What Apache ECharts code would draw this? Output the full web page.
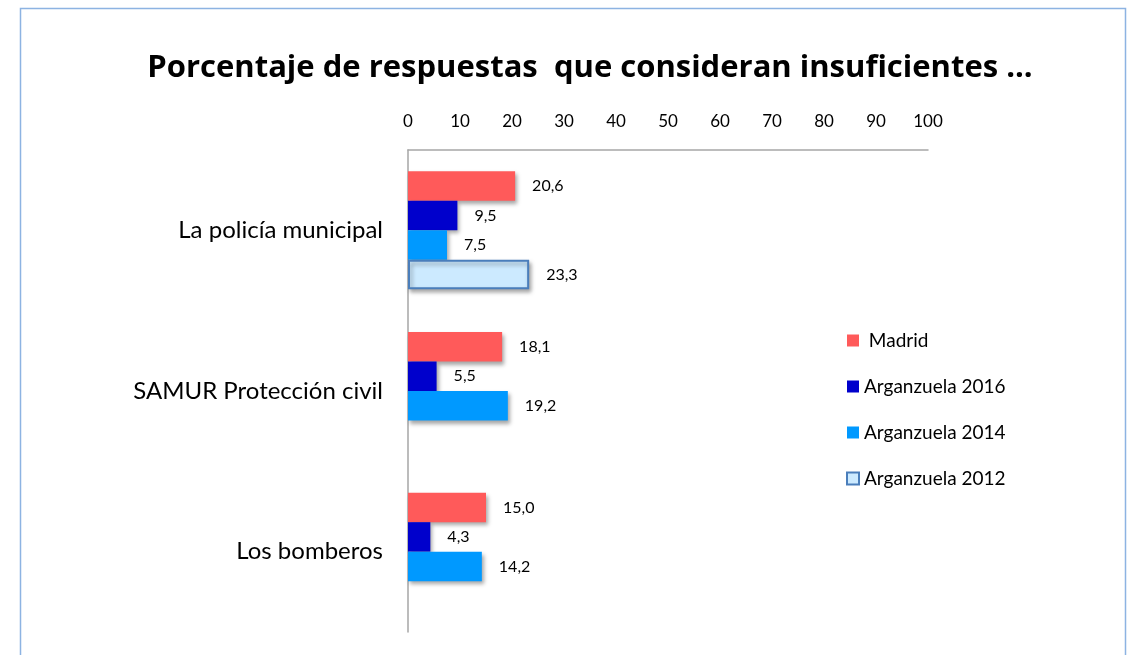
<!DOCTYPE html>
<html><head><meta charset="utf-8">
<script src="https://cdn.jsdelivr.net/npm/echarts@6/dist/echarts.min.js"></script>
<style>html,body{margin:0;padding:0;background:#fff}#c{width:1134px;height:655px}</style>
</head><body><div id="c"></div>
<script>
const categories = ['La policía municipal', 'SAMUR Protección civil', 'Los bomberos'];
const seriesNames = [' Madrid', 'Arganzuela 2016', 'Arganzuela 2014', 'Arganzuela 2012'];
const madrid = [20.6, 18.1, 15.0];
const arg2016 = [9.5, 5.5, 4.3];
const arg2014 = [7.5, 19.2, 14.2];
const arg2012 = [23.3, null, null];
const xTicks = [0, 10, 20, 30, 40, 50, 60, 70, 80, 90, 100];

const colors = ['#FF5A5A', '#0000CC', '#0099FF', '#CCEAFF'];
const FONT = 'Lato, "Open Sans", sans-serif';
const values = [madrid, arg2016, arg2014, arg2012];

const chart = echarts.init(document.getElementById('c'));
chart.setOption({
  animation: false,
  title: {
    text: 'Porcentaje de respuestas  que consideran insuficientes ...',
    left: 585, textAlign: 'center', top: 48,
    textStyle: { fontSize: 31, fontWeight: 'bold', color: '#000', fontFamily: '"Open Sans", sans-serif' }
  },
  graphic: [{
    type: 'rect', silent: true,
    shape: { x: 20.5, y: 8.5, width: 1105, height: 700 },
    style: { fill: 'none', stroke: '#8DB3E2', lineWidth: 1.5 }
  }],
  legend: {
    orient: 'vertical', left: 841, top: 326, itemGap: 27,
    itemWidth: 12, itemHeight: 12, icon: 'rect',
    textStyle: { fontSize: 19, color: '#000', fontFamily: FONT },
    data: seriesNames
  },
  grid: { left: 408, top: 150, right: 206, bottom: 23, containLabel: false },
  xAxis: {
    type: 'value', position: 'top', min: xTicks[0], max: xTicks[xTicks.length - 1], interval: 10,
    axisLine: { show: true, lineStyle: { color: '#A6A6A6', width: 1.5 } },
    axisTick: { show: false },
    splitLine: { show: false },
    axisLabel: { margin: 20, fontSize: 17, color: '#000', fontFamily: FONT }
  },
  yAxis: {
    type: 'category', inverse: true, data: categories,
    axisLine: { show: true, lineStyle: { color: '#A6A6A6', width: 1.5 } },
    axisTick: { show: false },
    axisLabel: { margin: 25, fontSize: 24, color: '#000', fontFamily: FONT }
  },
  series: seriesNames.map((n, i) => ({
    name: n, type: 'bar', data: values[i],
    barWidth: 29.5, barGap: '0%', barCategoryGap: '26%',
    itemStyle: {
      color: colors[i],
      borderColor: i === 3 ? '#4A7EBB' : colors[i],
      borderWidth: i === 3 ? 2 : 0,
      shadowColor: 'rgba(0,0,0,0.35)', shadowBlur: 4, shadowOffsetX: 2, shadowOffsetY: 3
    },
    label: {
      show: true, position: 'right', distance: 17,
      fontSize: 16, color: '#000', fontFamily: FONT,
      formatter: p => p.value == null ? '' : p.value.toFixed(1).replace('.', ',')
    }
  }))
});
</script></body></html>
